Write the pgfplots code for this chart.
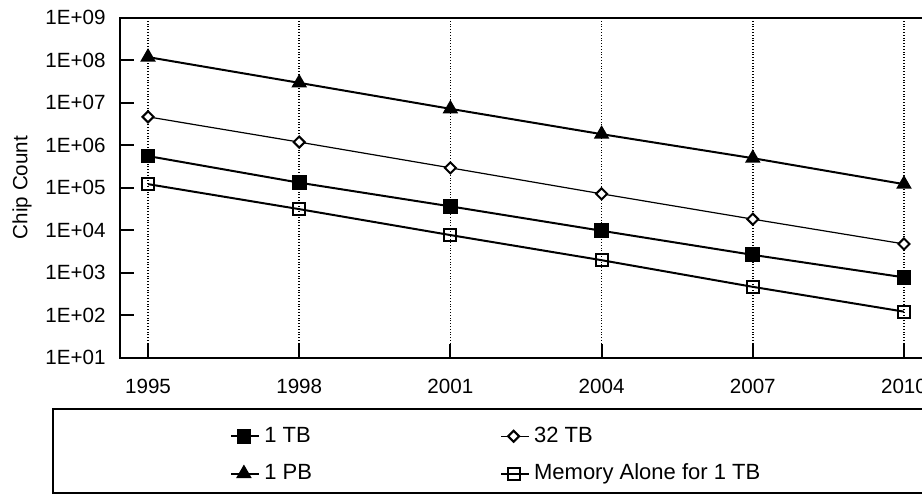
\documentclass[border=0pt]{standalone}
\usepackage{pgfplots}
\pgfplotsset{compat=1.18}
\usepackage{fontspec}
\setmainfont{Liberation Sans}
\begin{document}
\fontsize{10}{12}\selectfont
\begin{tikzpicture}
\begin{axis}[
  at={(0pt,0pt)}, anchor=south west,
  scale only axis, width=406pt, height=170pt,
  ymode=log, log basis y=10,
  xmin=1994.444, xmax=2010.556, ymin=10, ymax=1e9,
  xtick={1995,1998,2001,2004,2007,2010},
  xticklabels={1995,1998,2001,2004,2007,2010},
  ytick={10,100,1000,10000,100000,1000000,10000000,100000000,1000000000},
  yticklabels={1E+01,1E+02,1E+03,1E+04,1E+05,1E+06,1E+07,1E+08,1E+09},
  yminorticks=false,
  tick align=inside, major tick length=7pt,
  xtick pos=bottom, ytick pos=left,
  tick style={black, line width=1pt},
  axis line style={line width=1pt},
  xmajorgrids, grid style={black, densely dotted, line width=0.8pt},
  tick label style={font=\fontsize{10.3}{12}\selectfont},
  yticklabel style={xshift=-3.7pt},
  xticklabel style={yshift=-7.4pt},
  ylabel={Chip Count},
  ylabel style={at={(rel axis cs:-0.1207,0.5)}, anchor=center, font=\fontsize{10.3}{12}\selectfont},
  clip=false,
  legend columns=2,
  legend style={draw=none, fill=none, inner sep=0pt, anchor=west,
    at={(rel axis cs:0.1355,-0.2868)},
    font=\fontsize{11}{13}\selectfont,
    row sep=5.3pt, column sep=0pt,
    /tikz/every even column/.append style={column sep=92pt}},
  legend cell align=left,
  legend image code/.code={\path (0pt,0pt) -- (14pt,0pt);\draw[mark repeat=2,mark phase=2,#1] plot coordinates {(0pt,0pt)(6.25pt,0pt)(12.5pt,0pt)};},
]
\addplot[black, line width=1pt, mark=square*, mark size=3.2pt, mark options={solid}]
  coordinates {(1995,5.5e5)(1998,1.3e5)(2001,3.6e4)(2004,9.6e3)(2007,2.6e3)(2010,7.7e2)};
\addlegendentry{1 TB}
\addplot[black, line width=0.6pt, mark=square*, mark size=1.95pt, mark options={solid, rotate=45, fill=white, line width=1pt}]
  coordinates {(1995,4.6e6)(1998,1.17e6)(2001,2.9e5)(2004,7.1e4)(2007,1.8e4)(2010,4.7e3)};
\addlegendentry{32 TB}
\addplot[black, line width=1pt, mark=triangle*, mark size=3.5pt, mark options={solid}]
  coordinates {(1995,1.17e8)(1998,2.9e7)(2001,7.1e6)(2004,1.8e6)(2007,4.9e5)(2010,1.2e5)};
\addlegendentry{1 PB}
\addplot[black, line width=1pt, mark=square, mark size=3pt, mark options={solid}]
  coordinates {(1995,1.2e5)(1998,3.1e4)(2001,7.6e3)(2004,1.95e3)(2007,4.6e2)(2010,1.2e2)};
\addlegendentry{Memory Alone for 1 TB}
\draw[line width=0.8pt] (rel axis cs:-0.0825,-0.1515) rectangle (rel axis cs:1.06,-0.3985);
\end{axis}
\pgfresetboundingbox
\path[use as bounding box] (-60pt,-68.75pt) rectangle (401pt,178.75pt);
\end{tikzpicture}
\end{document}
